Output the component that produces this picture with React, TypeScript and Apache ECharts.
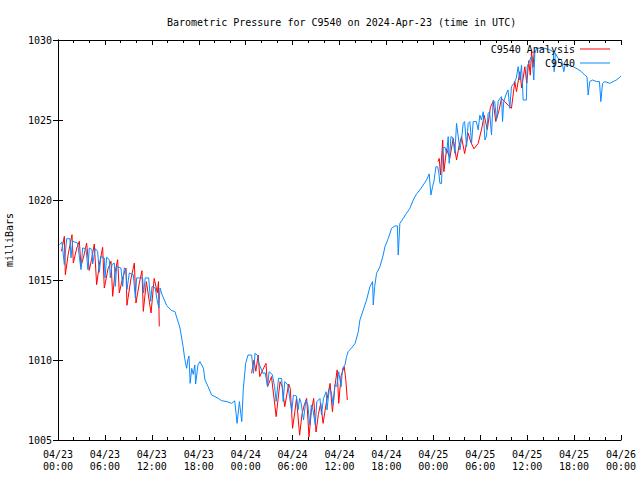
import React, { useEffect, useRef } from "react";
import * as echarts from "echarts";

const chartTitle = "Barometric Pressure for C9540 on 2024-Apr-23 (time in UTC)";
const yAxisName = "milliBars";
const analysisName = "C9540 Analysis";
const stationName = "C9540";

// x values are hours since 2024-04-23 00:00 UTC
const xTickLabels = [
  "04/23\n00:00", "04/23\n06:00", "04/23\n12:00", "04/23\n18:00",
  "04/24\n00:00", "04/24\n06:00", "04/24\n12:00", "04/24\n18:00",
  "04/25\n00:00", "04/25\n06:00", "04/25\n12:00", "04/25\n18:00",
  "04/26\n00:00",
];

const stationPressure: [number, number][] = [
  [0.2, 1017.2], [0.51, 1017.38], [0.81, 1015.96], [1.11, 1017.58], [1.53, 1017.58], [1.66, 1016.38],
  [1.87, 1017.42], [2.51, 1017.31], [2.94, 1015.65], [3.15, 1017.0], [3.58, 1016.96], [3.83, 1015.65],
  [4.0, 1017.0], [4.35, 1016.9], [4.43, 1016.0], [4.77, 1016.96], [5.07, 1016.79], [5.28, 1015.48],
  [5.5, 1016.48], [5.92, 1016.38], [6.01, 1015.13], [6.22, 1016.42], [6.56, 1016.27], [6.69, 1015.13],
  [6.9, 1015.96], [7.2, 1016.06], [7.33, 1014.6], [7.5, 1015.85], [8.05, 1015.75], [8.27, 1014.6],
  [8.48, 1015.75], [8.69, 1015.65], [8.82, 1014.4], [9.12, 1015.44], [9.63, 1015.33], [9.89, 1013.88],
  [10.06, 1015.13], [10.82, 1015.13], [10.95, 1014.19], [11.16, 1015.13], [11.59, 1015.13], [11.85, 1013.67],
  [12.02, 1014.6], [12.44, 1014.5], [12.66, 1013.77], [12.9, 1013.25], [13.05, 1014.5], [13.3, 1014.1],
  [13.9, 1013.4], [14.5, 1013.1], [14.96, 1013.02], [15.6, 1012.0], [16.0, 1010.83], [16.2, 1010.1],
  [16.45, 1009.48], [16.6, 1010.0], [16.75, 1010.25], [16.9, 1008.54], [17.1, 1009.48], [17.3, 1009.1],
  [17.5, 1009.69], [17.6, 1008.5], [17.9, 1009.69], [18.15, 1009.9], [18.6, 1009.48], [18.8, 1008.75],
  [19.2, 1008.33], [19.65, 1007.81], [20.07, 1007.71], [20.5, 1007.6], [20.9, 1007.46], [21.6, 1007.4],
  [22.2, 1007.29], [22.6, 1007.45], [22.9, 1006.04], [23.2, 1007.4], [23.5, 1006.15], [23.7, 1008.2],
  [24.0, 1009.79], [24.3, 1010.31], [24.76, 1010.31], [25.0, 1009.17], [25.2, 1010.42], [25.5, 1010.3],
  [25.7, 1009.79], [26.2, 1009.17], [26.5, 1009.2], [26.8, 1008.33], [27.0, 1009.27], [27.4, 1009.1],
  [27.7, 1008.33], [27.9, 1007.4], [28.2, 1008.85], [28.6, 1008.85], [28.8, 1007.4], [29.0, 1008.65],
  [29.4, 1008.44], [29.7, 1007.4], [29.9, 1006.77], [30.1, 1007.8], [30.5, 1007.75], [30.7, 1006.88],
  [30.9, 1007.6], [31.1, 1007.3], [31.4, 1006.25], [31.7, 1007.5], [31.95, 1007.2], [32.2, 1005.94],
  [32.4, 1007.19], [32.6, 1006.9], [32.9, 1005.94], [33.1, 1007.4], [33.5, 1007.6], [33.7, 1006.56],
  [33.95, 1007.6], [34.3, 1008.02], [34.4, 1006.88], [34.7, 1008.23], [34.95, 1008.0], [35.2, 1007.19],
  [35.4, 1008.44], [35.65, 1008.35], [35.9, 1009.27], [36.2, 1008.33], [36.4, 1009.48], [36.7, 1009.69],
  [36.9, 1010.21], [37.1, 1010.52], [37.5, 1010.73], [38.0, 1011.04], [38.4, 1011.77], [38.61, 1012.5],
  [39.04, 1013.13], [39.46, 1013.75], [39.89, 1014.58], [40.23, 1014.9], [40.32, 1013.44], [40.5, 1014.6],
  [40.74, 1015.42], [41.17, 1015.83], [41.59, 1016.56], [41.81, 1017.08], [42.24, 1017.6], [42.66, 1018.23],
  [43.08, 1018.38], [43.4, 1018.38], [43.51, 1016.56], [43.72, 1018.54], [44.15, 1018.85], [44.57, 1019.17],
  [45.0, 1019.48], [45.43, 1020.0], [45.85, 1020.38], [46.28, 1020.63], [46.71, 1020.94], [47.13, 1021.25],
  [47.47, 1021.63], [47.69, 1020.31], [47.9, 1020.83], [48.11, 1021.25], [48.33, 1022.08], [48.55, 1022.08],
  [48.7, 1021.7], [48.84, 1021.04], [49.05, 1021.04], [49.18, 1023.23], [49.5, 1023.3], [49.7, 1022.9],
  [49.9, 1023.96], [50.03, 1022.29], [50.25, 1023.96], [50.5, 1023.9], [50.75, 1022.92], [50.97, 1024.79],
  [51.4, 1023.13], [51.6, 1023.75], [51.82, 1024.79], [52.0, 1024.9], [52.25, 1023.33], [52.45, 1024.79],
  [52.67, 1024.9], [52.89, 1023.54], [53.1, 1024.9], [53.5, 1024.9], [53.74, 1024.38], [53.95, 1025.3],
  [54.15, 1025.0], [54.38, 1025.52], [54.6, 1023.75], [54.8, 1024.0], [55.01, 1025.42], [55.2, 1025.52],
  [55.44, 1024.06], [55.65, 1026.25], [55.85, 1026.15], [56.08, 1025.0], [56.29, 1026.15], [56.5, 1026.35],
  [56.72, 1026.46], [56.85, 1024.9], [57.0, 1026.15], [57.27, 1026.56], [57.55, 1026.88], [57.78, 1025.73],
  [57.99, 1027.08], [58.3, 1027.29], [58.6, 1027.6], [58.85, 1028.33], [59.06, 1027.5], [59.28, 1028.44],
  [59.49, 1026.25], [59.9, 1026.25], [60.0, 1028.33], [60.34, 1028.75], [60.6, 1029.0], [60.85, 1027.5],
  [60.98, 1029.17], [61.19, 1029.48], [61.8, 1029.48], [62.26, 1029.48], [62.9, 1029.38], [63.33, 1029.27],
  [63.45, 1028.02], [63.6, 1029.17], [63.96, 1028.85], [64.4, 1028.75], [64.69, 1028.02], [64.85, 1028.44],
  [65.24, 1028.44], [65.88, 1028.33], [66.4, 1028.2], [66.95, 1028.02], [67.37, 1027.81], [67.65, 1027.7],
  [67.8, 1026.56], [68.0, 1027.4], [68.35, 1027.5], [68.87, 1027.4], [69.25, 1027.4], [69.42, 1026.15],
  [69.64, 1027.29], [69.93, 1027.4], [70.57, 1027.29], [71.0, 1027.4], [71.4, 1027.5], [71.85, 1027.67],
  [72.0, 1027.75],
];

const analysisRun1: [number, number][] = [
  [0.45, 1016.8], [0.81, 1017.73], [0.94, 1015.33], [1.3, 1016.6], [1.79, 1017.83], [1.96, 1016.06],
  [2.4, 1017.0], [2.73, 1017.42], [2.94, 1015.85], [3.3, 1016.5], [3.66, 1017.31], [4.0, 1015.6],
  [4.3, 1016.3], [4.64, 1017.25], [4.94, 1014.71], [5.3, 1016.0], [5.71, 1017.04], [5.92, 1014.5],
  [6.4, 1015.7], [6.78, 1016.17], [6.99, 1013.98], [7.3, 1015.5], [7.63, 1016.27], [7.84, 1014.19],
  [8.3, 1015.2], [8.69, 1015.75], [8.82, 1013.42], [9.3, 1015.0], [9.76, 1016.06], [9.97, 1013.56],
  [10.4, 1014.8], [10.74, 1015.58], [10.91, 1013.04], [11.3, 1014.9], [11.9, 1012.94], [12.3, 1015.1],
  [12.7, 1014.2], [12.85, 1014.9], [12.95, 1012.1],
];

const analysisRun2: [number, number][] = [
  [24.76, 1009.17], [25.06, 1010.0], [25.3, 1009.3], [25.6, 1010.31], [25.8, 1008.96], [26.2, 1009.4],
  [26.6, 1009.79], [26.8, 1008.33], [27.3, 1008.96], [27.9, 1006.46], [28.2, 1007.8], [28.4, 1008.65],
  [28.7, 1008.3], [29.0, 1007.08], [29.5, 1008.5], [29.7, 1008.23], [30.0, 1005.73], [30.3, 1006.8],
  [30.5, 1007.6], [30.9, 1005.3], [31.2, 1006.6], [31.5, 1007.2], [31.8, 1007.6], [32.1, 1005.2],
  [32.4, 1006.8], [32.7, 1007.6], [33.0, 1005.5], [33.3, 1006.6], [33.6, 1007.3], [33.9, 1006.04],
  [34.3, 1007.3], [34.8, 1008.54], [35.0, 1007.3], [35.1, 1006.77], [35.4, 1008.3], [35.7, 1009.38],
  [35.9, 1007.29], [36.2, 1009.0], [36.6, 1009.58], [36.8, 1008.8], [37.0, 1007.5],
];

const analysisRun3: [number, number][] = [
  [48.6, 1022.4], [48.75, 1022.6], [48.92, 1021.56], [49.2, 1023.75], [49.35, 1021.77], [49.7, 1023.2],
  [50.1, 1022.6], [50.54, 1023.85], [50.97, 1022.5], [51.3, 1023.4], [51.6, 1023.96], [52.0, 1022.9],
  [52.46, 1024.17], [52.8, 1023.6], [53.2, 1023.2], [53.74, 1023.54], [54.2, 1024.5], [54.5, 1025.3],
  [54.9, 1024.4], [55.3, 1025.8], [55.65, 1026.15], [55.99, 1024.9], [56.4, 1025.6], [56.72, 1026.35],
  [57.14, 1026.15], [57.6, 1025.9], [57.99, 1025.73], [58.42, 1027.4], [58.63, 1026.77], [59.06, 1028.02],
  [59.3, 1027.0], [59.7, 1028.33], [59.95, 1027.3], [60.2, 1028.7], [60.4, 1027.8], [60.56, 1029.27],
  [60.75, 1028.3], [60.9, 1029.3],
];

const FONT = "DejaVu Sans Mono";
const RED = "#ff0000";
const BLUE = "#0a8aff";

export default function App() {
  const ref = useRef<HTMLDivElement>(null);
  useEffect(() => {
    if (!ref.current) return;
    const chart = echarts.init(ref.current, undefined, { renderer: "svg" });
    const tickCommon = {
      axisLine: { show: true, lineStyle: { color: "#000", width: 1 } },
      splitLine: { show: false },
    };
    const analysisSeries = [analysisRun1, analysisRun2, analysisRun3].map((run) => ({
      name: analysisName,
      type: "line",
      data: run,
      showSymbol: false,
      symbol: "none",
      lineStyle: { color: RED, width: 1 },
      itemStyle: { color: RED },
      z: 2,
    }));
    chart.setOption({
      animation: false,
      backgroundColor: "#fff",
      textStyle: { fontFamily: FONT, fontSize: 10, color: "#000" },
      title: {
        text: chartTitle,
        left: 162,
        top: 12,
        textStyle: { fontFamily: FONT, fontSize: 10, fontWeight: "normal", color: "#000" },
      },
      legend: {
        orient: "vertical",
        right: 30,
        top: 43,
        align: "right",
        itemWidth: 30,
        itemHeight: 1,
        itemGap: 2,
        icon: "rect",
        data: [
          { name: analysisName, itemStyle: { color: RED } },
          { name: stationName, itemStyle: { color: BLUE } },
        ],
        textStyle: { fontFamily: FONT, fontSize: 10, color: "#000", lineHeight: 12, padding: 0 },
        padding: 0,
      },
      grid: { left: 58, right: 19, top: 40, bottom: 40, containLabel: false, outerBoundsMode: "none" },
      xAxis: [
        {
          type: "value",
          min: 0,
          max: 72,
          interval: 6,
          position: "bottom",
          ...tickCommon,
          axisTick: { show: true, inside: true, length: 5, lineStyle: { color: "#000" } },
          minorTick: { show: true, splitNumber: 3, length: 3, lineStyle: { color: "#000" } },
          axisLabel: {
            show: true,
            margin: 8,
            lineHeight: 12,
            fontFamily: FONT,
            fontSize: 10,
            color: "#000",
            showMinLabel: true,
            showMaxLabel: true,
            formatter: (v: number) => xTickLabels[Math.round(v / 6)] ?? "",
          },
        },
        {
          type: "value",
          min: 0,
          max: 72,
          interval: 6,
          position: "top",
          ...tickCommon,
          axisTick: { show: true, inside: true, length: 5, lineStyle: { color: "#000" } },
          minorTick: { show: true, splitNumber: 3, length: 3, lineStyle: { color: "#000" } },
          axisLabel: { show: false },
        },
      ],
      yAxis: [
        {
          type: "value",
          min: 1005,
          max: 1030,
          interval: 5,
          position: "left",
          name: yAxisName,
          nameLocation: "middle",
          nameGap: 44,
          nameRotate: 90,
          nameTextStyle: { fontFamily: FONT, fontSize: 10, color: "#000" },
          ...tickCommon,
          axisTick: { show: true, inside: true, length: 5, lineStyle: { color: "#000" } },
          axisLabel: {
            show: true,
            margin: 6,
            fontFamily: FONT,
            fontSize: 10,
            color: "#000",
            formatter: (v: number) => String(v),
          },
        },
        {
          type: "value",
          min: 1005,
          max: 1030,
          interval: 5,
          position: "right",
          ...tickCommon,
          axisTick: { show: true, inside: true, length: 5, lineStyle: { color: "#000" } },
          axisLabel: { show: false },
        },
      ],
      series: [
        ...analysisSeries,
        {
          name: stationName,
          type: "line",
          data: stationPressure,
          showSymbol: false,
          symbol: "none",
          lineStyle: { color: BLUE, width: 1 },
          itemStyle: { color: BLUE },
          z: 3,
        },
      ],
    });
    return () => chart.dispose();
  }, []);
  return (
    <div
      ref={ref}
      style={{ position: "absolute", left: 0, top: 0, width: 640, height: 480, background: "#fff" }}
    />
  );
}
